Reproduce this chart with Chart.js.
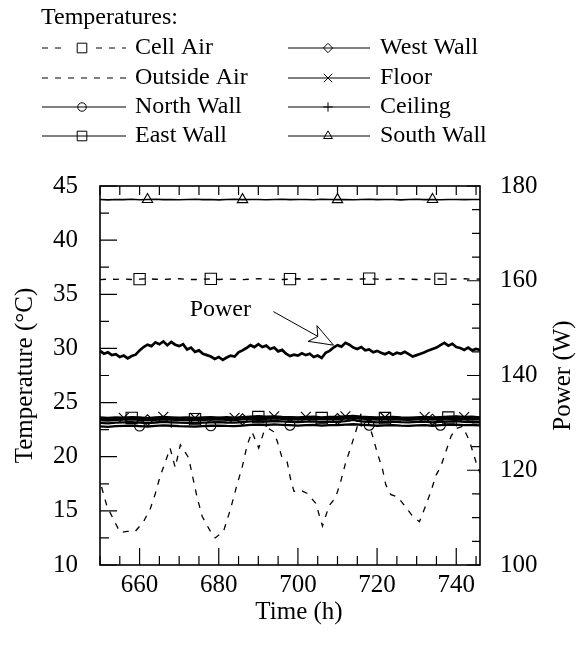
<!DOCTYPE html>
<html>
<head>
<meta charset="utf-8">
<script src="https://cdn.jsdelivr.net/npm/chart.js@4.4.1/dist/chart.umd.min.js"></script>
<style>
  html, body { margin: 0; padding: 0; background: #fff; }
  canvas { display: block; }
</style>
</head>
<body>
<canvas id="chart" width="578" height="646"></canvas>
<script>
// temperatures logged every 2 h
var wallHours = [650, 652, 654, 656, 658, 660, 662, 664, 666, 668,
  670, 672, 674, 676, 678, 680, 682, 684, 686, 688,
  690, 692, 694, 696, 698, 700, 702, 704, 706, 708,
  710, 712, 714, 716, 718, 720, 722, 724, 726, 728,
  730, 732, 734, 736, 738, 740, 742, 744, 746];

var southWall = [43.75, 43.72, 43.76, 43.74, 43.77, 43.73, 43.75, 43.78, 43.74, 43.76,
  43.73, 43.75, 43.77, 43.74, 43.76, 43.72, 43.75, 43.77, 43.74, 43.75,
  43.76, 43.73, 43.75, 43.78, 43.74, 43.76, 43.75, 43.73, 43.77, 43.75,
  43.74, 43.76, 43.73, 43.75, 43.77, 43.74, 43.76, 43.75, 43.72, 43.75,
  43.77, 43.74, 43.76, 43.73, 43.75, 43.76, 43.74, 43.75, 43.76];

var cellAir = [36.35, 36.40, 36.38, 36.42, 36.36, 36.40, 36.44, 36.39, 36.37, 36.41,
  36.43, 36.38, 36.36, 36.40, 36.42, 36.37, 36.41, 36.39, 36.35, 36.40,
  36.44, 36.41, 36.38, 36.36, 36.40, 36.43, 36.39, 36.41, 36.37, 36.40,
  36.42, 36.38, 36.36, 36.41, 36.44, 36.40, 36.37, 36.39, 36.43, 36.40,
  36.36, 36.41, 36.39, 36.42, 36.38, 36.40, 36.43, 36.39, 36.41];

var eastWall = [23.50, 23.46, 23.52, 23.55, 23.58, 23.52, 23.48, 23.54, 23.60, 23.56,
  23.52, 23.50, 23.47, 23.53, 23.55, 23.58, 23.54, 23.52, 23.58, 23.64,
  23.66, 23.62, 23.68, 23.63, 23.60, 23.56, 23.61, 23.63, 23.57, 23.62,
  23.60, 23.66, 23.70, 23.64, 23.60, 23.55, 23.57, 23.61, 23.56, 23.53,
  23.58, 23.61, 23.55, 23.60, 23.62, 23.66, 23.60, 23.62, 23.57];

var floorT = [23.62, 23.58, 23.64, 23.60, 23.66, 23.62, 23.57, 23.63, 23.68, 23.64,
  23.60, 23.62, 23.58, 23.63, 23.66, 23.61, 23.65, 23.60, 23.66, 23.71,
  23.74, 23.70, 23.73, 23.68, 23.66, 23.63, 23.68, 23.70, 23.64, 23.67,
  23.69, 23.73, 23.77, 23.70, 23.66, 23.62, 23.65, 23.68, 23.63, 23.60,
  23.64, 23.68, 23.62, 23.66, 23.70, 23.73, 23.67, 23.69, 23.64];

var westWall = [23.38, 23.34, 23.40, 23.42, 23.45, 23.40, 23.36, 23.41, 23.46, 23.43,
  23.39, 23.37, 23.35, 23.40, 23.43, 23.45, 23.41, 23.39, 23.45, 23.50,
  23.53, 23.49, 23.54, 23.50, 23.47, 23.43, 23.48, 23.50, 23.44, 23.48,
  23.47, 23.52, 23.57, 23.51, 23.47, 23.42, 23.45, 23.48, 23.43, 23.41,
  23.45, 23.48, 23.42, 23.47, 23.50, 23.53, 23.47, 23.49, 23.45];

var ceiling = [23.12, 23.08, 23.14, 23.17, 23.20, 23.15, 23.11, 23.16, 23.21, 23.18,
  23.14, 23.12, 23.10, 23.15, 23.18, 23.20, 23.16, 23.14, 23.20, 23.26,
  23.29, 23.25, 23.30, 23.26, 23.23, 23.19, 23.24, 23.26, 23.20, 23.24,
  23.23, 23.28, 23.40, 23.27, 23.23, 23.18, 23.21, 23.24, 23.19, 23.17,
  23.21, 23.24, 23.18, 23.23, 23.26, 23.29, 23.23, 23.25, 23.21];

var northWall = [22.80, 22.76, 22.82, 22.85, 22.88, 22.83, 22.79, 22.84, 22.89, 22.86,
  22.82, 22.80, 22.78, 22.83, 22.86, 22.88, 22.84, 22.82, 22.88, 22.94,
  22.97, 22.93, 22.98, 22.94, 22.91, 22.87, 22.92, 22.94, 22.88, 22.92,
  22.91, 22.96, 23.00, 22.95, 22.91, 22.86, 22.89, 22.92, 22.87, 22.85,
  22.89, 22.92, 22.86, 22.91, 22.94, 22.97, 22.91, 22.93, 22.89];

// outside air, irregular readings
var outsideHours = [650.4, 651.7, 653.4, 655.1, 656.8, 658.9, 661.0, 662.7, 663.9, 665.2,
  666.5, 667.7, 669.0, 670.3, 672.4, 673.5, 674.5, 675.8, 677.9, 679.1,
  681.2, 683.0, 684.6, 685.9, 687.2, 688.4, 690.1, 691.4, 692.6, 693.9,
  694.8, 696.0, 697.3, 698.1, 699.0, 700.7, 702.4, 704.5, 706.2, 707.9,
  709.5, 710.8, 712.1, 713.3, 714.6, 715.9, 717.6, 718.8, 720.1, 721.4,
  722.2, 723.5, 725.2, 726.9, 729.0, 730.7, 732.3, 733.6, 734.9, 736.1,
  737.4, 738.7, 739.9, 741.6, 743.3, 745.0, 746.0];
var outsideAir = [17.2, 15.5, 14.2, 13.0, 13.1, 13.1, 14.0, 15.2, 16.5, 18.2,
  19.5, 20.8, 19.0, 21.1, 19.9, 18.0, 16.3, 14.5, 13.1, 12.5,
  13.1, 15.2, 17.4, 19.0, 21.1, 22.3, 20.8, 22.3, 22.6, 22.3,
  21.4, 19.9, 19.5, 18.0, 16.8, 16.9, 16.6, 15.7, 13.6, 15.5,
  16.2, 17.7, 19.5, 20.8, 22.3, 23.9, 23.4, 22.0, 20.3, 18.8,
  17.4, 16.5, 16.3, 15.5, 14.5, 14.0, 15.5, 16.8, 18.3, 19.1,
  20.5, 21.9, 22.6, 22.8, 21.5, 19.5, 18.5];

// heater power, hourly
var powerHours = [650, 651, 652, 653, 654, 655, 656, 657, 658, 659,
  660, 661, 662, 663, 664, 665, 666, 667, 668, 669,
  670, 671, 672, 673, 674, 675, 676, 677, 678, 679,
  680, 681, 682, 683, 684, 685, 686, 687, 688, 689,
  690, 691, 692, 693, 694, 695, 696, 697, 698, 699,
  700, 701, 702, 703, 704, 705, 706, 707, 708, 709,
  710, 711, 712, 713, 714, 715, 716, 717, 718, 719,
  720, 721, 722, 723, 724, 725, 726, 727, 728, 729,
  730, 731, 732, 733, 734, 735, 736, 737, 738, 739,
  740, 741, 742, 743, 744, 745, 746];
var power = [145.2, 144.6, 144.9, 144.3, 144.5, 143.9, 144.2, 143.6, 144.1, 144.4,
  145.3, 146.0, 146.5, 146.2, 147.0, 146.6, 147.2, 146.4, 147.1, 146.5,
  146.2, 146.6, 145.5, 145.9, 145.0, 145.3, 144.6, 144.3, 144.0, 143.5,
  143.9, 143.3, 143.8, 144.2, 144.0, 144.9, 145.3, 145.8, 146.4, 146.0,
  146.6, 146.0, 146.3, 145.6, 145.9, 145.1, 145.4, 144.6, 144.1, 144.4,
  144.2, 144.7, 144.3, 144.6, 143.9, 144.2, 143.7, 144.8, 145.2, 145.9,
  146.4, 146.1, 146.9, 146.5, 145.9, 145.6, 146.0, 145.3, 145.5, 144.9,
  145.2, 144.8, 144.5, 144.9, 144.4, 144.8, 144.6, 145.0, 144.5, 144.0,
  144.3, 144.6, 144.9, 145.3, 145.6, 145.9, 146.4, 146.9, 146.3, 146.7,
  146.0, 145.8, 145.4, 145.9, 145.3, 145.6, 145.4];

// hours where the symbols sit
var cellAirMarks = [660, 678, 698, 718, 736];
var southMarks = [662, 686, 710, 734];
var northMarks = [660, 678, 698, 718, 736];
var eastMarks = [658, 674, 690, 706, 722, 738];
var westMarks = [662, 686, 710, 734];
var floorMarks = [656, 666, 674, 684, 694, 702, 712, 722, 732, 742];
var ceilingMarks = [668, 692, 716, 740];

var xTicks = [660, 680, 700, 720, 740];

var serif = '"Liberation Serif", "Times New Roman", serif';

function pts(hours, vals) {
  return hours.map(function (h, i) { return { x: h, y: vals[i] }; });
}
function marks(list, r) {
  return function (c) { return c.raw && list.indexOf(c.raw.x) >= 0 ? r : 0; };
}
function tempSet(label, hours, vals, style, list, r, dash, lw) {
  return {
    label: label, data: pts(hours, vals), yAxisID: 'y',
    borderColor: '#000', borderWidth: lw || 2.3, borderDash: dash || [],
    pointStyle: style, pointRadius: marks(list, r), legendRadius: r * 0.85,
    pointBorderColor: '#000', pointBackgroundColor: 'rgba(0,0,0,0)', pointBorderWidth: 1.1
  };
}

var datasets = [
  tempSet('Cell Air', wallHours, cellAir, 'rect', cellAirMarks, 8, [6, 7], 1.4),
  { label: 'Outside Air', data: pts(outsideHours, outsideAir), yAxisID: 'y',
    borderColor: '#000', borderWidth: 1.3, borderDash: [6, 7], pointRadius: 0, pointStyle: false },
  tempSet('North Wall', wallHours, northWall, 'circle', northMarks, 5),
  tempSet('East Wall', wallHours, eastWall, 'rect', eastMarks, 8),
  tempSet('West Wall', wallHours, westWall, 'rectRot', westMarks, 5.5),
  tempSet('Floor', wallHours, floorT, 'crossRot', floorMarks, 7),
  tempSet('Ceiling', wallHours, ceiling, 'cross', ceilingMarks, 5.5),
  tempSet('South Wall', wallHours, southWall, 'triangle', southMarks, 6, null, 1.6),
  { label: 'Power', data: pts(powerHours, power), yAxisID: 'y2',
    borderColor: '#000', borderWidth: 2.7, pointRadius: 0 }
];

// frame and inward ticks
var frame = {
  id: 'frame',
  afterDatasetsDraw: function (chart) {
    var ctx = chart.ctx, a = chart.chartArea, s = chart.scales;
    ctx.save();
    ctx.strokeStyle = '#000';
    ctx.lineWidth = 1.2;
    ctx.beginPath();
    for (var h = 650; h <= 746; h += 5) {
      var px = s.x.getPixelForValue(h);
      var len = h % 20 === 0 ? 17 : 9;
      ctx.moveTo(px, a.bottom); ctx.lineTo(px, a.bottom - len);
      ctx.moveTo(px, a.top); ctx.lineTo(px, a.top + 9);
    }
    for (var t = 10; t <= 45; t += 2.5) {
      var py = s.y.getPixelForValue(t);
      ctx.moveTo(a.left, py); ctx.lineTo(a.left + (t % 5 === 0 ? 17 : 9), py);
    }
    for (var w = 100; w <= 180; w += 5) {
      var qy = s.y2.getPixelForValue(w);
      ctx.moveTo(a.right, qy); ctx.lineTo(a.right - (w % 20 === 0 ? 13 : 8), qy);
    }
    ctx.stroke();
    ctx.lineWidth = 1.6;
    ctx.strokeRect(a.left, a.top, a.right - a.left, a.bottom - a.top);
    ctx.restore();
  }
};

// legend, axis titles and the Power call-out
var extras = {
  id: 'extras',
  afterDraw: function (chart) {
    var ctx = chart.ctx, a = chart.chartArea, s = chart.scales;
    ctx.save();
    ctx.fillStyle = '#000';
    ctx.strokeStyle = '#000';
    ctx.textBaseline = 'middle';

    ctx.font = '25px ' + serif;
    ctx.textAlign = 'center';
    ctx.fillText('Time (h)', (a.left + a.right) / 2 + 9, 612);
    ctx.save();
    ctx.translate(25, (a.top + a.bottom) / 2);
    ctx.rotate(-Math.PI / 2);
    ctx.fillText('Temperature (°C)', 0, 0);
    ctx.restore();
    ctx.save();
    ctx.translate(563, (a.top + a.bottom) / 2);
    ctx.rotate(-Math.PI / 2);
    ctx.fillText('Power (W)', 0, 0);
    ctx.restore();

    // call-out
    ctx.font = '24px ' + serif;
    ctx.fillText('Power', s.x.getPixelForValue(680.4), s.y.getPixelForValue(33.55));
    var x0 = s.x.getPixelForValue(693.8), y0 = s.y.getPixelForValue(33.4);
    var x1 = s.x.getPixelForValue(709), y1 = s.y.getPixelForValue(30.3);
    var ang = Math.atan2(y1 - y0, x1 - x0), ux = Math.cos(ang), uy = Math.sin(ang);
    var hl = 24, hw = 9;
    ctx.lineWidth = 1;
    ctx.beginPath();
    ctx.moveTo(x0, y0);
    ctx.lineTo(x1 - ux * hl * 0.75, y1 - uy * hl * 0.75);
    ctx.moveTo(x1, y1);
    ctx.lineTo(x1 - ux * hl - uy * hw, y1 - uy * hl + ux * hw);
    ctx.lineTo(x1 - ux * hl * 0.75, y1 - uy * hl * 0.75);
    ctx.lineTo(x1 - ux * hl + uy * hw, y1 - uy * hl - ux * hw);
    ctx.closePath();
    ctx.stroke();

    // legend
    ctx.textAlign = 'left';
    ctx.font = '24px ' + serif;
    ctx.fillText('Temperatures:', 41, 18);
    var cols = [{ x0: 42, x1: 126, mx: 82, tx: 135 }, { x0: 288, x1: 370, mx: 328, tx: 380 }];
    var rows = [48, 78, 107, 136];
    var temps = chart.data.datasets.filter(function (d) { return d.yAxisID === 'y'; });
    temps.forEach(function (d, i) {
      var c = cols[Math.floor(i / 4)], y = rows[i % 4];
      var dash = d.borderDash || [];
      ctx.lineWidth = 1;
      ctx.setLineDash(dash);
      ctx.beginPath();
      if (dash.length && d.pointStyle) {
        ctx.moveTo(c.x0, y); ctx.lineTo(c.mx - 14, y);
        ctx.moveTo(c.mx + 14, y); ctx.lineTo(c.x1, y);
      } else {
        ctx.moveTo(c.x0, y); ctx.lineTo(c.x1, y);
      }
      ctx.stroke();
      ctx.setLineDash([]);
      if (d.pointStyle) {
        ctx.fillStyle = 'rgba(0,0,0,0)';
        Chart.helpers.drawPoint(ctx, { pointStyle: d.pointStyle, rotation: 0, radius: d.legendRadius, borderWidth: 1 }, c.mx, y);
        ctx.fillStyle = '#000';
      }
      ctx.fillText(d.label, c.tx, y);
    });
    ctx.restore();
  }
};

var tickFont = { family: serif, size: 25 };

new Chart(document.getElementById('chart').getContext('2d'), {
  type: 'line',
  data: { datasets: datasets },
  options: {
    responsive: false,
    devicePixelRatio: 1,
    animation: false,
    events: [],
    layout: { padding: { top: 186, left: 0, right: 0, bottom: 0 } },
    plugins: { legend: { display: false }, tooltip: { enabled: false } },
    scales: {
      x: {
        type: 'linear', min: 650, max: 746,
        afterFit: function (sc) { sc.height = 81; },
        afterBuildTicks: function (sc) { sc.ticks = xTicks.map(function (v) { return { value: v }; }); },
        grid: { display: false }, border: { display: false },
        ticks: { padding: -3, color: '#000', font: tickFont, maxRotation: 0, autoSkip: false }
      },
      y: {
        position: 'left', min: 10, max: 45,
        afterFit: function (sc) { sc.width = 100; },
        grid: { display: false }, border: { display: false },
        ticks: { stepSize: 5, padding: 14, color: '#000', font: tickFont }
      },
      y2: {
        position: 'right', min: 100, max: 180,
        afterFit: function (sc) { sc.width = 98; },
        grid: { display: false }, border: { display: false },
        ticks: { stepSize: 20, padding: 12, color: '#000', font: tickFont }
      }
    }
  },
  plugins: [frame, extras]
});
</script>
</body>
</html>
